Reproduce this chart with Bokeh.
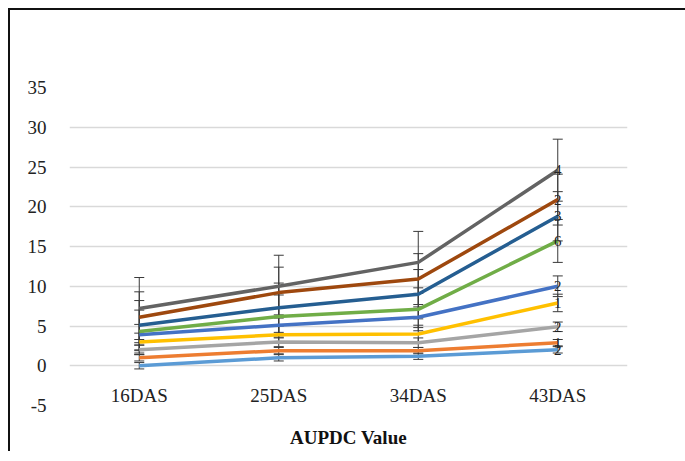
from bokeh.plotting import figure
from bokeh.models import Range1d, FixedTicker, ColumnDataSource, Whisker, TeeHead
from bokeh.core.properties import value
from bokeh.embed import file_html
from bokeh.resources import INLINE

categories = ["16DAS", "25DAS", "34DAS", "43DAS"]

s1 = [0, 1, 1.2, 2]
s2 = [1, 1.9, 1.9, 2.9]
s3 = [2, 3, 2.9, 4.9]
s4 = [3, 3.9, 4, 7.9]
s5 = [3.9, 5.1, 6.1, 10]
s6 = [4.3, 6.2, 7.1, 15.7]
s7 = [5.1, 7.3, 9, 18.8]
s8 = [6.1, 9.2, 10.9, 20.9]
s9 = [7.2, 10, 13, 24.6]
series = [s1, s2, s3, s4, s5, s6, s7, s8, s9]

errors = [0.4, 0.4, 0.6, 1.1, 1.3, 2.7, 3.1, 3.2, 3.9]
end_labels = ["2", "1", "2", "1", "2", "6", "3", "2", "4"]

colors = ["#5B9BD5", "#ED7D31", "#A5A5A5", "#FFC000", "#4472C4",
          "#70AD47", "#255E91", "#9E480E", "#636363"]

y_ticks = [-5, 0, 5, 10, 15, 20, 25, 30, 35]

p = figure(x_range=categories, y_range=Range1d(-5, 35),
           frame_width=558, frame_height=318,
           min_border_left=59, min_border_right=58,
           min_border_top=77, min_border_bottom=46,
           output_backend="svg", toolbar_location=None,
           background_fill_color="white", border_fill_color="white")
p.styles = {"border-left": "2px solid #111", "border-top": "2px solid #111",
            "margin-left": "8px", "margin-top": "8px", "margin-right": "-8px"}
p.outline_line_color = None

p.xgrid.grid_line_color = None
p.ygrid.grid_line_color = "#d9d9d9"
p.ygrid.grid_line_width = 1.5
p.yaxis.ticker = FixedTicker(ticks=y_ticks)
p.yaxis.major_label_overrides = {t: str(t) for t in y_ticks}
p.yaxis.axis_line_color = None
p.yaxis.major_tick_line_color = None
p.yaxis.minor_tick_line_color = None
p.yaxis.major_label_text_font = "Liberation Serif"
p.yaxis.major_label_text_font_size = "19px"
p.yaxis.major_label_text_color = "#222222"
p.yaxis.major_label_standoff = 17

p.xaxis.axis_line_color = None
p.xaxis.major_tick_line_color = None
p.xaxis.major_label_text_font = "Liberation Serif"
p.xaxis.major_label_text_font_size = "19px"
p.xaxis.major_label_text_color = "#222222"
p.xaxis.major_label_standoff = -27
p.xaxis.axis_label = "AUPDC Value"
p.xaxis.axis_label_text_font = "Liberation Serif"
p.xaxis.axis_label_text_font_size = "19px"
p.xaxis.axis_label_text_font_style = "bold"
p.xaxis.axis_label_text_color = "#111111"
p.xaxis.axis_label_standoff = 18

for vals, err, col in zip(series, errors, colors):
    src = ColumnDataSource(dict(
        x=categories, y=vals,
        upper=[v + err for v in vals],
        lower=[v - err for v in vals]))
    p.line("x", "y", source=src, line_color=col, line_width=3.5)
    w = Whisker(base="x", upper="upper", lower="lower", source=src,
                line_color="#3a3a3a", line_width=1,
                upper_head=TeeHead(size=10, line_color="#3a3a3a", line_width=1),
                lower_head=TeeHead(size=10, line_color="#3a3a3a", line_width=1))
    p.add_layout(w)

last_y = [s[-1] for s in series]
lab = ColumnDataSource(dict(x=[categories[-1]] * len(series), y=last_y, t=end_labels))
p.text("x", "y", text="t", source=lab, text_align="center", text_baseline="middle",
       text_font=value("Liberation Serif"), text_font_size="15px", text_color="#222222")

open("out.html", "w").write(file_html(p, INLINE))
